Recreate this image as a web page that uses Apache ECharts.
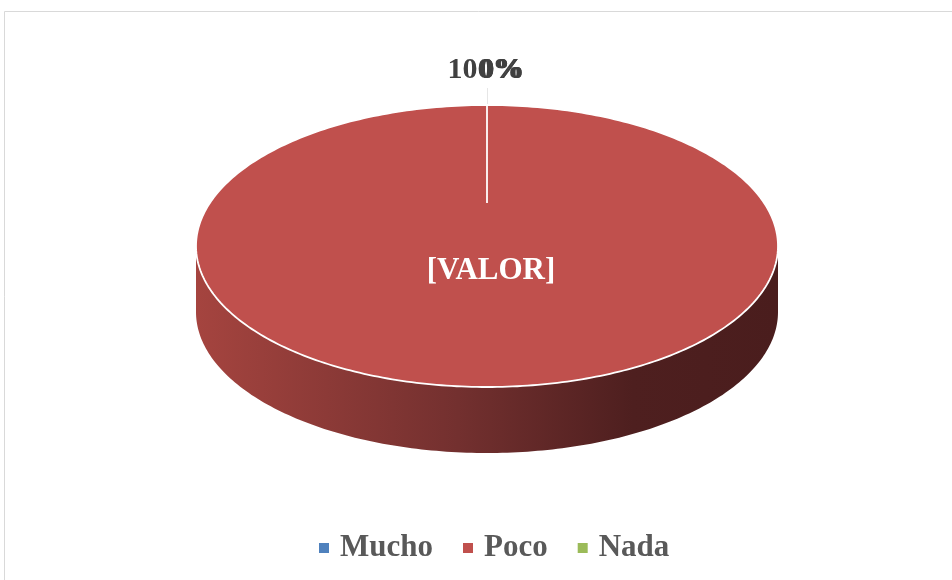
<!DOCTYPE html>
<html>
<head>
<meta charset="utf-8">
<script src="https://cdn.jsdelivr.net/npm/echarts@6/dist/echarts.min.js"></script>
<style>
  html, body { margin: 0; padding: 0; background: #fff; }
  #chart { width: 952px; height: 580px; }
</style>
</head>
<body>
<div id="chart"></div>
<script>
const categories = ["Mucho", "Poco", "Nada"];
const values = [0, 100, 0];
const percentLabels = ["0%", "100%", "0%"];

const COLORS = ["#4F81BD", "#C0504D", "#9BBB59"];
const SIDE_STOPS = {
  "#4F81BD": ["#3f6897", "#2a4566"],
  "#C0504D": ["#a5443f", "#4a1d1d"],
  "#9BBB59": ["#7c9647", "#536430"]
};

// pie geometry (top face ellipse + extrusion depth)
const CX = 487, CY = 246, RX = 291, RY = 141, DEPTH = 66;
const HUB_Y = 203; // perspective centre of the top face
const FONT = '"Liberation Serif", "Times New Roman", serif';

function pt(a, dy) {
  // angle clockwise from 12 o'clock
  return [CX + RX * Math.sin(a), CY - RY * Math.cos(a) + (dy || 0)];
}

function arcPoints(a0, a1, dy) {
  const pts = [];
  const n = Math.max(2, Math.ceil((a1 - a0) / (Math.PI / 180)));
  for (let k = 0; k <= n; k++) pts.push(pt(a0 + (a1 - a0) * k / n, dy));
  return pts;
}

function renderSlice(params, api) {
  const i = params.seriesIndex;
  const total = values.reduce((s, v) => s + v, 0);
  let start = 0;
  for (let j = 0; j < i; j++) start += values[j];
  const a0 = start / total * Math.PI * 2;
  const a1 = (start + values[i]) / total * Math.PI * 2;
  const color = COLORS[i];
  const children = [];

  // front wall (only the part facing the viewer)
  const f0 = Math.max(a0, Math.PI / 2);
  const f1 = Math.min(a1, Math.PI * 1.5);
  if (f1 > f0) {
    const top = arcPoints(f0, f1, 0);
    const bottom = arcPoints(f0, f1, DEPTH).reverse();
    const st = SIDE_STOPS[color];
    children.push({
      type: "polygon",
      shape: { points: top.concat(bottom) },
      style: {
        fill: new echarts.graphic.LinearGradient(CX - RX, 0, CX + RX, 0, [
          { offset: 0, color: st[0] },
          { offset: 0.45, color: "#73302f" },
          { offset: 0.75, color: "#4e1f1f" },
          { offset: 1, color: st[1] }
        ], true)
      }
    });
  }

  // top face
  if (a1 > a0) {
    const pts = [[CX, HUB_Y]].concat(arcPoints(a0, a1, 0));
    children.push({
      type: "polygon",
      shape: { points: pts },
      style: { fill: color, stroke: "#ffffff", lineWidth: 1.8 }
    });
  }

  // data label above the top of the pie
  const dx = [15, -2, 15][i];
  if (values[i] === 0) {
    children.push({
      type: "line",
      shape: { x1: CX + 0.5, y1: 88, x2: CX + 0.5, y2: 104 },
      style: { stroke: "#e6e6e6", lineWidth: 1 }
    });
  }
  children.push({
    type: "text",
    style: {
      text: percentLabels[i],
      x: CX + dx,
      y: 70,
      align: "center",
      verticalAlign: "middle",
      fill: "#404040",
      font: "bold 30px " + FONT
    }
  });

  return { type: "group", children: children };
}

const chart = echarts.init(document.getElementById("chart"));

chart.setOption({
  backgroundColor: "#ffffff",
  animation: false,
  legend: {
    data: categories,
    left: 319,
    top: 531,
    padding: 0,
    icon: "rect",
    itemWidth: 10,
    itemHeight: 10,
    itemGap: 30,
    textStyle: {
      fontFamily: FONT,
      fontSize: 31,
      fontWeight: "bold",
      color: "#595959",
      lineHeight: 34,
      padding: [0, 0, 0, 6]
    }
  },
  graphic: [
    {
      type: "rect",
      shape: { x: 4.5, y: 11.5, width: 1200, height: 1200 },
      style: { fill: "none", stroke: "#d9d9d9", lineWidth: 1 },
      silent: true
    },
    {
      type: "text",
      z: 100,
      style: {
        text: "[VALOR]",
        x: 491,
        y: 271,
        align: "center",
        verticalAlign: "middle",
        fill: "#ffffff",
        font: "bold 31px " + FONT
      }
    }
  ],
  series: categories.map((name, i) => ({
    name: name,
    type: "custom",
    coordinateSystem: "none",
    itemStyle: { color: COLORS[i] },
    renderItem: renderSlice,
    data: [[values[i]]]
  }))
});
</script>
</body>
</html>
